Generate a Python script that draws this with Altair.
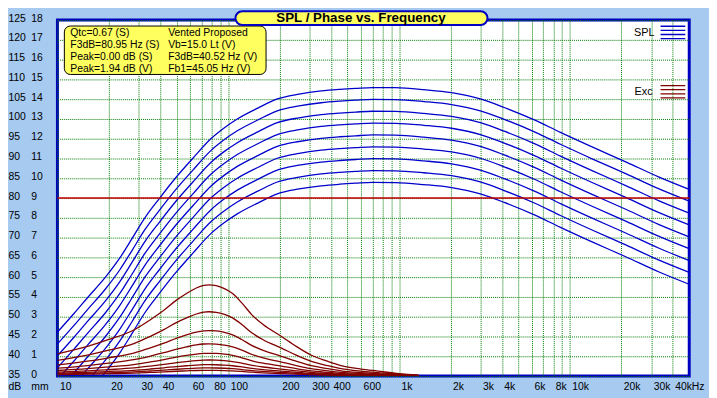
import altair as alt
import pandas as pd

# ---------------- data ----------------
SPL_FREQ = [10, 12.5, 15, 19.1, 23.3, 27.2, 32.5, 39.7, 49, 61.9, 79.1, 95, 113, 150,
            192, 260, 350, 450, 558, 700, 953, 1400, 2030, 3027, 4130, 6200, 8810,
            13700, 21400, 33300, 50000]
SPL_TOP = [46.1, 50.8, 54.8, 60.0, 65.0, 69.6, 75.0, 80.0, 85.0, 90.0, 95.0, 97.8,
           100.0, 102.8, 105.0, 106.3, 107.1, 107.5, 107.75, 107.95, 107.9, 107.4,
           106.65, 105.0, 102.9, 99.75, 96.6, 92.8, 89.1, 85.3, 82.2]
SPL_STEP_DB = [0, -3, -6, -9, -12, -15, -18, -21, -24]

EXC_FREQ = [10, 15, 20, 28, 35, 42, 50, 57, 65, 72, 77, 85, 95, 106, 120, 138, 160,
            205, 250, 307, 380, 457, 600, 750, 1000, 1300]
EXC_TOP = [1.12, 1.5, 1.85, 2.33, 2.85, 3.33, 3.85, 4.17, 4.45, 4.58, 4.61, 4.57, 4.42,
           4.17, 3.7, 3.08, 2.6, 2.0, 1.5, 1.05, 0.75, 0.53, 0.35, 0.25, 0.12, 0.05]
EXC_PEAKS = [4.61, 3.25, 2.30, 1.63, 1.15, 0.81, 0.575, 0.41, 0.29]

X_GRID = [10, 20, 30, 40, 50, 60, 70, 80, 90,
          100, 200, 300, 400, 500, 600, 700, 800, 900,
          1000, 2000, 3000, 4000, 5000, 6000, 7000, 8000, 9000,
          10000, 20000, 30000, 40000]
X_LABEL_VALUES = [10, 20, 30, 40, 60, 80, 100, 200, 300, 400, 600, 1000, 2000, 3000,
                  4000, 6000, 8000, 10000, 20000, 30000, 40000]
X_LABEL_TEXT = ['10', '20', '30', '40', '60', '80', '100', '200', '300', '400', '600',
                '1k', '2k', '3k', '4k', '6k', '8k', '10k', '20k', '30k', '40kHz']
DB_TICKS = [35, 40, 45, 50, 55, 60, 65, 70, 75, 80, 85, 90, 95, 100, 105, 110, 115, 120, 125]
MM_TICKS = [0, 1, 2, 3, 4, 5, 6, 7, 8, 9, 10, 11, 12, 13, 14, 15, 16, 17, 18]
REF_LINE_DB = [80]

TITLE = 'SPL / Phase vs. Frequency'
INFO_LEFT = ['Qtc=0.67 (S)', 'F3dB=80.95 Hz (S)', 'Peak=0.00 dB (S)', 'Peak=1.94 dB (V)']
INFO_RIGHT = ['Vented Proposed', 'Vb=15.0 Lt (V)', 'F3dB=40.52 Hz (V)', 'Fb1=45.05 Hz (V)']
LEGEND_NAMES = ['SPL', 'Exc']

# ---------------- tables ----------------
spl_rows = []
for k, step in enumerate(SPL_STEP_DB):
    for f, v in zip(SPL_FREQ, SPL_TOP):
        spl_rows.append({'freq': f, 'db': v + step, 'level': k, 'series': 'SPL'})
spl_df = pd.DataFrame(spl_rows)

exc_rows = []
for k, peak in enumerate(EXC_PEAKS):
    for f, v in zip(EXC_FREQ, EXC_TOP):
        exc_rows.append({'freq': f, 'mm': v * peak / EXC_PEAKS[0], 'level': k, 'series': 'Exc'})
exc_df = pd.DataFrame(exc_rows)

ref_df = pd.DataFrame({'db': REF_LINE_DB})
one = pd.DataFrame({'a': [0]})

GREEN = '#007A00'
BLUE = '#0000CC'
DARKRED = '#800000'
YELLOW = '#FFFF60'
FONT = 'Liberation Sans'

label_expr = ''.join(f"datum.value == {v} ? '{t}' : " for v, t in zip(X_LABEL_VALUES, X_LABEL_TEXT)) + "''"

x_axis = alt.Axis(values=X_GRID, labelExpr=label_expr, grid=True, gridColor=GREEN,
                  gridDash=[1, 1], gridWidth=1, ticks=False, tickSize=0, domain=False,
                  labelAlign='left', labelBaseline='middle', labelPadding=11, labelOffset=2,
                  labelFlush=False, labelOverlap=False, labelFontSize=10.5,
                  labelColor='black', labelFont=FONT, title=None)
x_enc = alt.X('freq:Q', scale=alt.Scale(type='log', domain=[10, 50000], nice=False),
              axis=x_axis)

db_axis = alt.Axis(orient='left', values=DB_TICKS, grid=True, gridColor=GREEN,
                   gridDash=[1, 1], gridWidth=1, ticks=False, tickSize=0, domain=False,
                   labelAlign='left', labelBaseline='middle', labelPadding=50,
                   labelOffset=-2, labelFlush=False, labelOverlap=False,
                   labelFontSize=10.5, labelColor='black', labelFont=FONT,
                   title='dB', titleAngle=0, titleX=-50, titleY=371, titleAlign='left',
                   titleBaseline='middle', titleFontWeight='normal', titleFontSize=10.5,
                   titleColor='black', titleFont=FONT)
mm_axis = alt.Axis(orient='left', values=MM_TICKS, grid=False, ticks=False, tickSize=0,
                   domain=False, labelAlign='left', labelBaseline='middle',
                   labelPadding=27, labelOffset=-2, labelFlush=False, labelOverlap=False,
                   labelFontSize=10.5, labelColor='black', labelFont=FONT,
                   title='mm', titleAngle=0, titleX=-27, titleY=371, titleAlign='left',
                   titleBaseline='middle', titleFontWeight='normal', titleFontSize=10.5,
                   titleColor='black', titleFont=FONT)
db_scale = alt.Scale(domain=[35, 125], nice=False, zero=False)

legend = alt.Legend(title=None, orient='none', legendX=609, legendY=-1, direction='vertical',
                    symbolType='M-1,-0.5H1M-1,-0.1667H1M-1,0.1667H1M-1,0.5H1',
                    symbolSize=625, symbolStrokeWidth=1.3, symbolOffset=0,
                    labelExpr="''", rowPadding=37, padding=0)
color_scale = alt.Scale(domain=LEGEND_NAMES, range=[BLUE, DARKRED])

spl_lines = alt.Chart(spl_df).mark_line(clip=True, strokeWidth=1.3, interpolate='monotone').encode(
    x=x_enc,
    y=alt.Y('db:Q', scale=db_scale, axis=db_axis),
    color=alt.Color('series:N', scale=color_scale, legend=legend),
    detail='level:N',
)
ref_rule = alt.Chart(ref_df).mark_rule(color='#C00000', strokeWidth=1.5).encode(
    y=alt.Y('db:Q', scale=db_scale, axis=db_axis))
spl_layer = alt.layer(spl_lines, ref_rule)

exc_lines = alt.Chart(exc_df).mark_line(clip=True, strokeWidth=1.3, interpolate='monotone').encode(
    x=x_enc,
    y=alt.Y('mm:Q', scale=alt.Scale(domain=[0, 18], nice=False, zero=False), axis=mm_axis),
    color=alt.Color('series:N', scale=color_scale, legend=legend),
    detail='level:N',
)

legend_spl = alt.Chart(one).mark_text(text=LEGEND_NAMES[0], fontSize=11, font=FONT,
                                      align='right', baseline='middle', color='black').encode(
    x=alt.value(604), y=alt.value(12.7))
legend_exc = alt.Chart(one).mark_text(text=LEGEND_NAMES[1], fontSize=11, font=FONT,
                                      align='right', baseline='middle', color='black').encode(
    x=alt.value(602), y=alt.value(72.7))

info_box = alt.Chart(one).mark_rect(fill=YELLOW, stroke='black', strokeWidth=1,
                                    cornerRadius=6).encode(
    x=alt.value(7), x2=alt.value(211), y=alt.value(6), y2=alt.value(55))
info_left = alt.Chart(one).mark_text(text=INFO_LEFT, lineHeight=12.2, align='left',
                                     baseline='middle', fontSize=10.5, font=FONT,
                                     color='black').encode(x=alt.value(13), y=alt.value(13.4))
info_right = alt.Chart(one).mark_text(text=INFO_RIGHT, lineHeight=12.2, align='left',
                                      baseline='middle', fontSize=10.5, font=FONT,
                                      color='black').encode(x=alt.value(112), y=alt.value(13.4))
title_box = alt.Chart(one).mark_rect(fill=YELLOW, stroke='#0000C0', strokeWidth=2,
                                     cornerRadius=8).encode(
    x=alt.value(180), x2=alt.value(435), y=alt.value(-9), y2=alt.value(5))
title_text = alt.Chart(one).mark_text(text=TITLE, fontSize=13.5, fontWeight='bold',
                                      font=FONT, align='center', baseline='middle',
                                      color='black').encode(x=alt.value(307), y=alt.value(-2))

chart = alt.layer(
    spl_layer, exc_lines, legend_spl, legend_exc, info_box, info_left, info_right,
    title_box, title_text
).resolve_scale(y='independent').properties(
    width=639, height=360,
    padding={'left': 50, 'top': 10, 'right': 20, 'bottom': 20},
    autosize=alt.AutoSizeParams(type='none'),
).configure(
    background='#A6CAF0', font=FONT
).configure_view(
    stroke='#0000C0', strokeWidth=3, fill='white'
)

chart.save('out.html', embed_options={'renderer': 'svg', 'actions': False})
